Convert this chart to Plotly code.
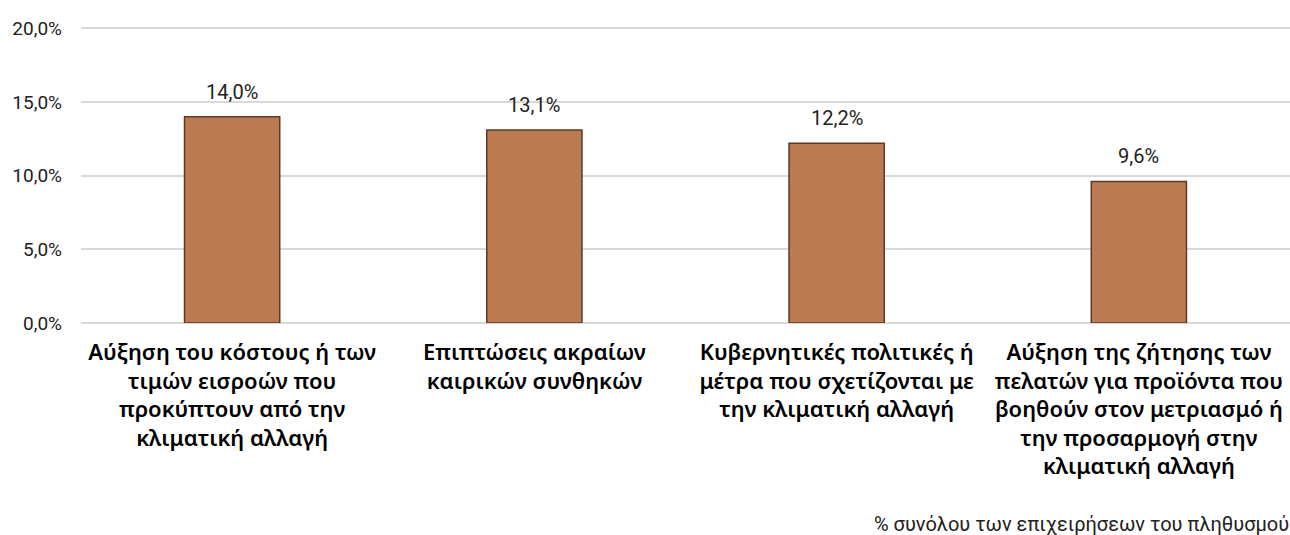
import plotly.graph_objects as go

categories = [
    "Αύξηση του κόστους ή των<br>τιμών εισροών που<br>προκύπτουν από την<br>κλιματική αλλαγή",
    "Επιπτώσεις ακραίων<br>καιρικών συνθηκών",
    "Κυβερνητικές πολιτικές ή<br>μέτρα που σχετίζονται με<br>την κλιματική αλλαγή",
    "Αύξηση της ζήτησης των<br>πελατών για προϊόντα που<br>βοηθούν στον μετριασμό ή<br>την προσαρμογή στην<br>κλιματική αλλαγή",
]
values = [14.0, 13.1, 12.2, 9.6]
y_ticks = [0, 5, 10, 15, 20]
footnote = "% συνόλου των επιχειρήσεων του πληθυσμού"


def pct(v):
    return f"{v:.1f}%".replace(".", ",")


fig = go.Figure()
fig.add_trace(go.Bar(
    x=categories, y=values, width=0.315,
    marker=dict(color="#BA7B52", line=dict(color="#5E3A22", width=1.5)),
    hoverinfo="skip",
))

for c, v in zip(categories, values):
    fig.add_annotation(
        x=c, y=v, text=pct(v), showarrow=False,
        yanchor="bottom", yshift=11,
        font=dict(family="Roboto", size=20, color="#222222"),
    )

fig.add_annotation(
    xref="paper", yref="paper", x=(872 - 81) / 1209, y=-0.68,
    xanchor="left", yanchor="middle", showarrow=False, text=footnote,
    font=dict(family="Roboto", size=20, color="#222222"),
)

fig.update_layout(
    width=1290, height=535,
    margin=dict(l=81, r=0, t=27, b=212),
    paper_bgcolor="white", plot_bgcolor="white",
    showlegend=False,
    xaxis=dict(
        tickfont=dict(family="Noto Sans", size=22, color="#000000", weight=600),
        showline=False, showgrid=False, ticks="", ticklabelstandoff=14,
    ),
    yaxis=dict(
        range=[0, 20.08], tickvals=y_ticks, ticktext=[pct(t) for t in y_ticks],
        showgrid=True, gridcolor="#D9D9D9", gridwidth=1.5,
        zeroline=True, zerolinecolor="#D9D9D9", zerolinewidth=1.5,
        tickfont=dict(family="Roboto", size=19, color="#222222"),
        ticklabelstandoff=18,
    ),
)

fig.write_html(
    "out.html",
    config={"displayModeBar": False},
    post_script="document.body.style.margin='0';document.body.style.overflow='hidden';",
)
